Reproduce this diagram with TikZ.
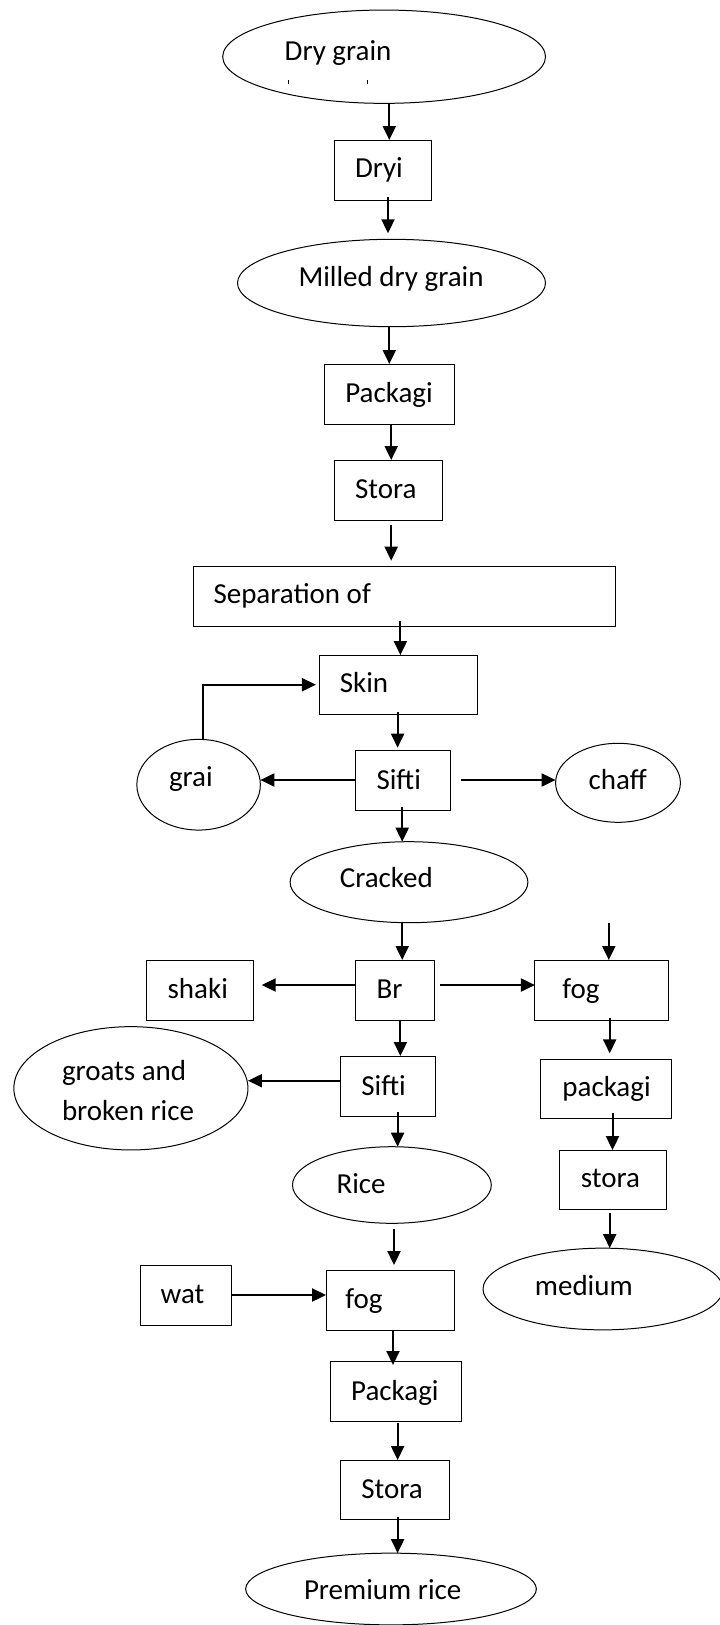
\documentclass[tikz,border=0pt]{standalone}
\usepackage{fontspec}
\setmainfont{Carlito}
\usetikzlibrary{shapes.geometric,arrows.meta}
\begin{document}
\begin{tikzpicture}[x=1pt,y=-1pt,
  box/.style={draw=black,line width=1pt,rectangle,inner sep=0pt,outer sep=0pt},
  oval/.style={draw=black,line width=1pt,ellipse,inner sep=0pt,outer sep=0pt},
  lbl/.style={anchor=base west,inner sep=0pt,outer sep=0pt,font=\fontsize{29}{40}\selectfont},
  arr/.style={line width=2pt,-{Triangle[length=14pt,width=13pt]}}
]
\useasboundingbox (0,0) rectangle (720,1625);
\fill[white] (0,0) rectangle (720,1625);

% shapes
\node[oval,minimum width=322.8pt,minimum height=93.3pt] (e1) at (384.1,56.7) {};
\node[box,minimum width=97.3pt,minimum height=60pt] (dryi) at (383,170) {};
\node[oval,minimum width=308pt,minimum height=87.4pt] (e2) at (391.5,283) {};
\node[box,minimum width=130.3pt,minimum height=60pt] (pack1) at (389.4,394) {};
\node[box,minimum width=108.3pt,minimum height=60pt] (stora1) at (388.5,490) {};
\node[box,minimum width=421.9pt,minimum height=60pt] (sep) at (404.3,596) {};
\node[box,minimum width=157.9pt,minimum height=59.3pt] (skin) at (398.6,684.7) {};
\node[box,minimum width=94.6pt,minimum height=60pt] (sift1) at (402.7,780.7) {};
\node[oval,minimum width=123.5pt,minimum height=90.7pt] (grai) at (198.6,784.7) {};
\node[oval,minimum width=124.8pt,minimum height=79pt] (chaff) at (618,782.8) {};
\node[oval,minimum width=237.8pt,minimum height=81pt] (cracked) at (409,882.2) {};
\node[box,minimum width=78.9pt,minimum height=60pt] (br) at (394.9,990) {};
\node[box,minimum width=107pt,minimum height=60pt] (shaki) at (200.4,990) {};
\node[box,minimum width=133.6pt,minimum height=60pt] (fogR) at (601.7,990) {};
\node[box,minimum width=94.6pt,minimum height=60pt] (sift2) at (388,1086) {};
\node[oval,minimum width=234.1pt,minimum height=123.3pt] (groats) at (130.9,1088.3) {};
\node[box,minimum width=130.8pt,minimum height=59.3pt] (packR) at (606.3,1088.7) {};
\node[oval,minimum width=198.8pt,minimum height=76.6pt] (rice) at (391.9,1185) {};
\node[box,minimum width=106.5pt,minimum height=59.3pt] (storaR) at (613,1179.7) {};
\node[oval,minimum width=240pt,minimum height=81.7pt] (medium) at (603,1289) {};
\node[box,minimum width=90.5pt,minimum height=60pt] (wat) at (185.8,1295) {};
\node[box,minimum width=128.5pt,minimum height=59.3pt] (fog2) at (390.3,1300.4) {};
\node[box,minimum width=130.4pt,minimum height=60pt] (pack2) at (395.8,1391.7) {};
\node[box,minimum width=108.3pt,minimum height=59.3pt] (stora2) at (394.9,1489.7) {};
\node[oval,minimum width=290.7pt,minimum height=71.7pt] (premium) at (391,1589) {};

% clipped remnants of a second text line
\fill (287.5,80) rectangle (289,83.5);
\fill (366.5,80) rectangle (368,83.5);

% texts
\node[lbl] (t1) at (284.7,60) {Dry grain};
\node[lbl] (t2) at (355,177.3) {Dryi};
\node[lbl] (t3) at (298.5,286.7) {Milled dry grain};
\node[lbl] (t4) at (345.3,402.7) {Packagi};
\node[lbl] (t5) at (355,498.3) {Stora};
\node[lbl] (t6) at (213.5,603.3) {Separation of};
\node[lbl] (t7) at (339.8,692.7) {Skin};
\node[lbl] (t8) at (169,786.7) {grai};
\node[lbl] (t9) at (376.5,789) {Sifti};
\node[lbl] (t10) at (588.6,789.3) {chaff};
\node[lbl] (t11) at (339.8,887.3) {Cracked};
\node[lbl] (t12) at (167.6,998.3) {shaki};
\node[lbl] (t13) at (376.5,998.7) {Br};
\node[lbl] (t14) at (562.4,998.3) {fog};
\node[lbl] (t15) at (62,1080) {groats and};
\node[lbl] (t16) at (62,1120.7) {broken rice};
\node[lbl] (t17) at (361.3,1095) {Sifti};
\node[lbl] (t18) at (562.4,1096.7) {packagi};
\node[lbl] (t19) at (336.5,1193.3) {Rice};
\node[lbl] (t20) at (580.8,1187.7) {stora};
\node[lbl] (t21) at (534.9,1295) {medium};
\node[lbl] (t22) at (160.7,1303.3) {wat};
\node[lbl] (t23) at (345.3,1308.3) {fog};
\node[lbl] (t24) at (351.2,1400) {Packagi};
\node[lbl] (t25) at (361.3,1498.3) {Stora};
\node[lbl] (t26) at (304,1599.3) {Premium rice};

% connectors
\draw[arr] (389.3,0 |- e1.south) -- (389.3,0 |- dryi.north);
\draw[arr,shorten <=-2.7pt,shorten >=6pt] (388,0 |- dryi.south) -- (388,0 |- e2.north);
\draw[arr] (389.3,0 |- e2.south) -- (389.3,0 |- pack1.north);
\draw[arr] (391.2,0 |- pack1.south) -- (391.2,0 |- stora1.north);
\draw[arr,shorten <=5pt,shorten >=5.3pt] (391.2,0 |- stora1.south) -- (391.2,0 |- sep.north);
\draw[arr,shorten <=-5.3pt] (400.4,0 |- sep.south) -- (400.4,0 |- skin.north);
\draw[arr,shorten <=-2pt,shorten >=3pt] (397.6,0 |- skin.south) -- (397.6,0 |- sift1.north);
\draw[arr,shorten >=3.7pt] (203.4,0 |- grai.north) |- (skin.west);
\draw[arr] (sift1.west |- 0,780) -- (grai.east |- 0,780);
\draw[arr,shorten <=10.5pt] (sift1.east |- 0,780) -- (chaff.west |- 0,780);
\draw[arr,shorten <=-3.4pt] (402.2,0 |- sift1.south) -- (402.2,0 |- cracked.north);
\draw[arr] (402.2,0 |- cracked.south) -- (402.2,0 |- br.north);
\draw[arr,shorten >=7.8pt] (br.west |- 0,985) -- (shaki.east |- 0,985);
\draw[arr,shorten <=5.6pt] (br.east |- 0,985) -- (fogR.west |- 0,985);
\coordinate (fin) at (608.8,923.3);
\draw[arr] (fin) -- (fin |- fogR.north);
\draw[arr] (400.4,0 |- br.south) -- (400.4,0 |- sift2.north);
\draw[arr] (sift2.west |- 0,1080.7) -- (groats.east |- 0,1080.7);
\draw[arr,shorten <=-4.3pt] (397.6,0 |- sift2.south) -- (397.6,0 |- rice.north);
\draw[arr,shorten <=-2.3pt,shorten >=5.7pt] (609.7,0 |- fogR.south) -- (609.7,0 |- packR.north);
\draw[arr,shorten <=-5pt] (612.5,0 |- packR.south) -- (612.5,0 |- storaR.north);
\draw[arr,shorten <=3.4pt] (609.7,0 |- storaR.south) -- (609.7,0 |- medium.north);
\draw[arr,shorten <=6pt,shorten >=5.7pt] (394,0 |- rice.south) -- (394,0 |- fog2.north);
\draw[arr] (wat.east |- 0,1295) -- (fog2.west |- 0,1295);
\draw[arr,shorten >=-3.3pt] (393,0 |- fog2.south) -- (393,0 |- pack2.north);
\draw[arr,shorten <=1.6pt] (397.6,0 |- pack2.south) -- (397.6,0 |- stora2.north);
\draw[arr,shorten <=-2.6pt] (397.6,0 |- stora2.south) -- (397.6,0 |- premium.north);
\end{tikzpicture}
\end{document}
